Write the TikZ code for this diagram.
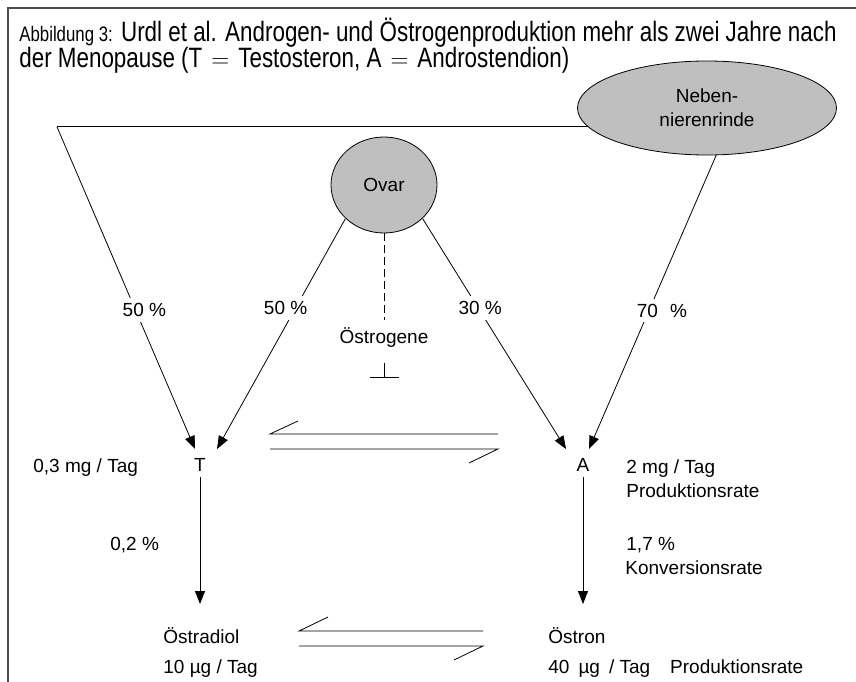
\documentclass[tikz,border=0pt]{standalone}
\usepackage{fontspec}
\setmainfont{Liberation Sans}
\newfontfamily\titelfont[FakeStretch=0.80]{Liberation Sans}
\usepackage{tikz}
\usetikzlibrary{calc}
\usetikzlibrary{positioning}
\usetikzlibrary{arrows.meta}
\usetikzlibrary{shapes.geometric}

\begin{document}
\begin{tikzpicture}[x=1pt,y=-1pt,line width=0.8pt,
  every node/.style={font=\fontsize{19}{24}\selectfont,inner sep=0pt},
  organ/.style={ellipse,draw,fill=black!25},
  anteil/.style={fill=white,inner sep=5pt},
  pfeil/.style={-{Triangle[length=13pt,width=10pt]}}]
\useasboundingbox[fill=white] (0,0) rectangle (856,682);
\draw[line width=2pt,black!70] (856,8) -- (8,8) -- (8,682);

\node[anchor=base west,font=\titelfont\fontsize{28}{26}\selectfont] (titel1) at (19,42) {{\fontsize{21}{26}\selectfont Abbildung 3:} Urdl et al. Androgen- und Östrogenproduktion mehr als zwei Jahre nach};
\node[anchor=base west,font=\titelfont\fontsize{28}{26}\selectfont] (titel2) at ($(titel1.base west)+(0,26)$) {der Menopause (T\hspace{9pt}$=$\hspace{9pt}Testosteron, A\hspace{9pt}$=$\hspace{9pt}Androstendion)};

\node[organ,minimum width=106pt,minimum height=96pt] (ovar) at (384,185) {Ovar};
\node[organ,minimum width=259pt,minimum height=94pt,align=center] (nnr) at (707,108) {Neben-\\nierenrinde};

\node[inner sep=5pt] (T) at (200,465) {T};
\node[inner sep=5pt] (A) at (583,465) {A};

\coordinate (links) at (57,0);
\coordinate (knick) at (nnr.189 -| links);
\coordinate (T1) at (195,449);
\coordinate (T2) at (217,449);
\coordinate (A1) at (566,449);
\coordinate (A2) at (589,449);

\draw (nnr.189) -- (knick);
\draw[pfeil] (knick) -- node[anteil,pos=0.568,xshift=9pt] (p1) {50 \%} (T1);
\draw[pfeil] (ovar.221) -- node[anteil,pos=0.388,xshift=-10pt] (p2) {50 \%} (T2);
\draw[pfeil] (ovar.319) -- node[anteil,pos=0.388,xshift=2pt] (p3) {30 \%} (A1);
\draw[pfeil] (nnr.281) -- node[anteil,pos=0.529,xshift=13pt] (p4) {70\hspace{12pt}\%} (A2);

\node (oest) at (384,338) {Östrogene};
\draw[dash pattern=on 8pt off 4pt,shorten >=8pt] (ovar) -- (oest);
\coordinate (hemmA) at (384,363);
\coordinate (hemm) at (384,378);
\draw[-{Bar[width=29pt]}] (hemmA) -- (hemm);

\coordinate (gl) at (270,434);
\coordinate (gr) at (498,449);
\draw (gr |- gl) -- (gl) -- ++(28,-13);
\draw (gl |- gr) -- (gr) -- ++(-29,14);

\node[anchor=base west] (tmenge) at (33,472) {0,3 mg / Tag};
\node[anchor=base west] (tkonv) at (110,550) {0,2 \%};
\node[anchor=base west] (amenge) at (626,473) {2 mg / Tag};
\node[anchor=base west] (aprod) at ($(amenge.base west)+(0,24)$) {Produktionsrate};
\node[anchor=base west] (akonv) at (626,550) {1,7 \%};
\node[anchor=base west] (akonvrate) at ($(akonv.base west)+(-1,24)$) {Konversionsrate};

\coordinate (zielT) at (200,604);
\coordinate (zielA) at (583,604);
\draw[pfeil] (T) -- (zielT);
\draw[pfeil] (A) -- (zielA);

\node[anchor=base west] (e2) at (163,643) {Östradiol};
\node[anchor=base west] (e2menge) at ($(e2.base west)+(0,30)$) {10 µg / Tag};
\node[anchor=base west] (e1) at (548,643) {Östron};
\node[anchor=base west] (e1menge) at ($(e1.base west)+(0,30)$) {40\hspace{9pt}µg\hspace{9pt}/ Tag\hspace{20pt}Produktionsrate};

\coordinate (ul) at (299,631);
\coordinate (ur) at (483,646);
\draw (ur |- ul) -- (ul) -- ++(29,-14);
\draw (ul |- ur) -- (ur) -- ++(-29,14);
\end{tikzpicture}
\end{document}
